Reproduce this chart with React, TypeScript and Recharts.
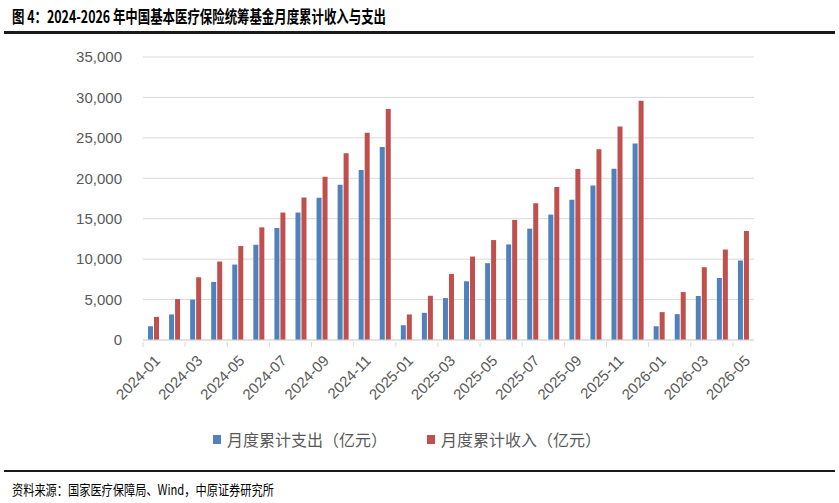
import React from "react";
import { BarChart, Bar, XAxis, YAxis, CartesianGrid } from "recharts";

const months = [
  "2024-01", "2024-02", "2024-03", "2024-04", "2024-05", "2024-06",
  "2024-07", "2024-08", "2024-09", "2024-10", "2024-11", "2024-12",
  "2025-01", "2025-02", "2025-03", "2025-04", "2025-05", "2025-06",
  "2025-07", "2025-08", "2025-09", "2025-10", "2025-11", "2025-12",
  "2026-01", "2026-02", "2026-03", "2026-04", "2026-05",
];

// 月度累计支出（亿元）
const expense = [
  1700, 3160, 5000, 7180, 9330, 11780, 13860, 15760, 17590, 19200, 21020, 23880,
  1830, 3360, 5190, 7260, 9500, 11820, 13770, 15510, 17340, 19120, 21190, 24300,
  1700, 3200, 5440, 7670, 9830,
];

// 月度累计收入（亿元）
const income = [
  2860, 5060, 7760, 9700, 11620, 13930, 15760, 17620, 20200, 23100, 25620, 28570,
  3160, 5470, 8170, 10320, 12360, 14850, 16920, 18910, 21140, 23590, 26420, 29600,
  3450, 5930, 9000, 11190, 13480,
];

const yTicks = [0, 5000, 10000, 15000, 20000, 25000, 30000, 35000];

const data = months.map((m, i) => ({ month: m, expense: expense[i], income: income[i] }));

const BLUE = "#4f81bd";
const RED = "#c0504d";
const AXIS_GRAY = "#d9d9d9";
const TEXT_GRAY = "#595959";
const FONT = "'Liberation Sans', Arial, sans-serif";
const CJK = "'Noto Sans CJK SC', 'Noto Sans', sans-serif";

const MonthTick = (props: any) => {
  const { x, y, payload } = props;
  const half = payload && payload.offset ? payload.offset : 10.5;
  return (
    <g>
      <line x1={x - half} x2={x - half} y1={y - 6} y2={y - 1} stroke={AXIS_GRAY} strokeWidth={1} />
      <g transform={`translate(${x + 4},${y + 10})`}>
        <text
          x={0}
          y={0}
          dy="0.35em"
          textAnchor="end"
          transform="rotate(-45)"
          fill={TEXT_GRAY}
          fontSize={15}
          fontFamily={FONT}
        >
          {payload.value}
        </text>
      </g>
    </g>
  );
};

const LegendItem = ({ color, label }: { color: string; label: string }) => (
  <div style={{ display: "flex", alignItems: "center" }}>
    <span style={{ width: 8, height: 9, background: color, marginRight: 6 }} />
    <span style={{ fontFamily: CJK, fontSize: 16, color: TEXT_GRAY }}>{label}</span>
  </div>
);

export default function App() {
  return (
    <div
      style={{
        position: "absolute",
        left: 0,
        top: 0,
        width: 839,
        height: 503,
        background: "#fff",
        overflow: "hidden",
      }}
    >
      {/* title */}
      <div
        style={{
          position: "absolute",
          left: 12,
          top: 4,
          whiteSpace: "nowrap",
          fontFamily: CJK,
          fontWeight: 700,
          fontSize: 17,
          color: "#000",
          transform: "scaleX(0.73)",
          transformOrigin: "left center",
          lineHeight: "24px",
        }}
      >
        图 4：2024-2026 年中国基本医疗保险统筹基金月度累计收入与支出
      </div>
      <div style={{ position: "absolute", left: 4, top: 31, width: 831, height: 2.5, background: "#1a1a1a" }} />

      <div style={{ position: "absolute", left: 0, top: 0 }}>
        <BarChart
          width={839}
          height={420}
          data={data}
          margin={{ top: 57, right: 85, bottom: 20, left: 0 }}
          barSize={5}
          barGap={1}
        >
          <CartesianGrid vertical={false} stroke={AXIS_GRAY} strokeWidth={1} />
          <XAxis
            dataKey="month"
            interval={1}
            height={60}
            tickLine={false}
            axisLine={{ stroke: AXIS_GRAY, strokeWidth: 1 }}
            tick={<MonthTick />}
          />
          <YAxis
            width={143}
            domain={[0, 35000]}
            ticks={yTicks}
            axisLine={false}
            tickLine={false}
            tickMargin={15}
            tickFormatter={(v: number) => v.toLocaleString("en-US")}
            tick={{ fill: TEXT_GRAY, fontSize: 15, fontFamily: FONT }}
          />
          <Bar dataKey="expense" fill={BLUE} isAnimationActive={false} />
          <Bar dataKey="income" fill={RED} isAnimationActive={false} />
        </BarChart>
      </div>

      {/* legend */}
      <div
        style={{
          position: "absolute",
          left: 213,
          top: 427,
          display: "flex",
          gap: 40,
          height: 24,
          alignItems: "center",
        }}
      >
        <LegendItem color={BLUE} label="月度累计支出（亿元）" />
        <LegendItem color={RED} label="月度累计收入（亿元）" />
      </div>

      <div style={{ position: "absolute", left: 4, top: 469.5, width: 831, height: 2.5, background: "#1a1a1a" }} />
      <div
        style={{
          position: "absolute",
          left: 12,
          top: 478,
          whiteSpace: "nowrap",
          fontFamily: CJK,
          fontSize: 14,
          color: "#000",
          transform: "scaleX(0.8)",
          transformOrigin: "left center",
          lineHeight: "22px",
        }}
      >
        资料来源：国家医疗保障局、Wind，中原证券研究所
      </div>
    </div>
  );
}
